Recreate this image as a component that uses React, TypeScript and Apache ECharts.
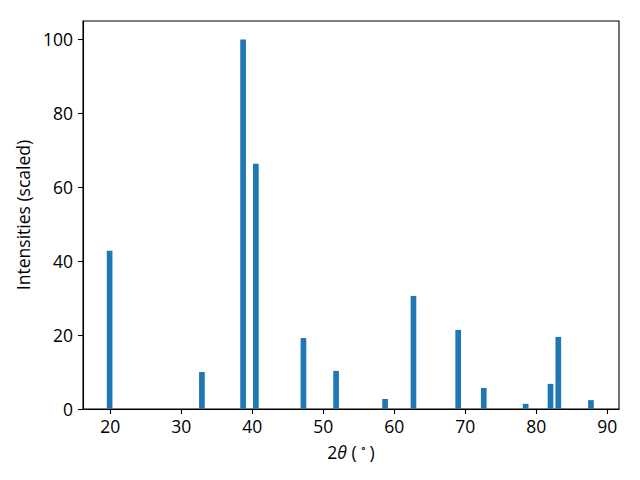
import React, { useEffect, useRef } from "react";
import * as echarts from "echarts";

const twoTheta = [19.9, 32.9, 38.7, 40.5, 47.2, 51.8, 58.7, 62.7, 69.0, 72.6, 78.5, 82.0, 83.1, 87.7];
const intensities = [42.8, 10.0, 100, 66.4, 19.2, 10.3, 2.7, 30.6, 21.4, 5.7, 1.4, 6.8, 19.5, 2.4];
const xTicks = [20, 30, 40, 50, 60, 70, 80, 90];
const yTicks = [0, 20, 40, 60, 80, 100];
const barWidth = 0.8;

const FONT = "Open Sans";
const FS = 17.5;

export default function App() {
  const ref = useRef<HTMLDivElement>(null);
  useEffect(() => {
    if (!ref.current) return;
    const chart = echarts.init(ref.current, undefined, { renderer: "svg" });
    const data = twoTheta.map((x, i) => [x, intensities[i]]);
    chart.setOption({
      animation: false,
      backgroundColor: "#fff",
      textStyle: { fontFamily: FONT },
      grid: {
        left: 83,
        right: 21,
        top: 21,
        bottom: 71,
        show: true,
        borderColor: "#000",
        borderWidth: 1.1,
        backgroundColor: "transparent",
      },
      xAxis: {
        type: "value",
        min: 16.15,
        max: 91.65,
        name: "{n|2}{i|θ}{n| (}{s|∘}{n|)}",
        nameLocation: "middle",
        nameGap: 33,
        nameTextStyle: {
          rich: {
            n: { fontSize: FS, fontFamily: FONT, color: "#000" },
            i: { fontSize: FS, fontFamily: FONT, fontStyle: "italic", color: "#000" },
            s: { fontSize: 11, fontFamily: FONT, color: "#000", padding: [0, 3, 9, 3] },
          },
        },
        axisLine: { show: true, lineStyle: { color: "#000", width: 1.1 } },
        axisTick: { show: true, inside: false, length: 5, lineStyle: { color: "#000", width: 1.1 }, customValues: xTicks },
        axisLabel: { show: true, color: "#000", fontSize: FS, fontFamily: FONT, margin: 8, customValues: xTicks },
        splitLine: { show: false },
      },
      yAxis: {
        type: "value",
        min: 0,
        max: 105,
        name: "Intensities (scaled)",
        nameLocation: "middle",
        nameGap: 49,
        nameRotate: 90,
        nameTextStyle: { fontSize: FS, fontFamily: FONT, color: "#000" },
        axisLine: { show: true, lineStyle: { color: "#000", width: 1.1 } },
        axisTick: { show: true, inside: false, length: 5, lineStyle: { color: "#000", width: 1.1 }, customValues: yTicks },
        axisLabel: { show: true, color: "#000", fontSize: FS, fontFamily: FONT, margin: 10, customValues: yTicks },
        splitLine: { show: false },
      },
      series: [
        {
          type: "custom",
          clip: true,
          data,
          encode: { x: 0, y: 1 },
          renderItem: (params: any, api: any) => {
            const x = api.value(0);
            const y = api.value(1);
            const p0 = api.coord([x - barWidth / 2, y]);
            const p1 = api.coord([x + barWidth / 2, 0]);
            return {
              type: "rect",
              shape: { x: p0[0], y: p0[1], width: p1[0] - p0[0], height: p1[1] - p0[1] },
              style: { fill: "#1f77b4" },
            };
          },
        },
      ],
    });
    return () => chart.dispose();
  }, []);
  return <div ref={ref} style={{ position: "fixed", left: 0, top: 0, width: 640, height: 480 }} />;
}
